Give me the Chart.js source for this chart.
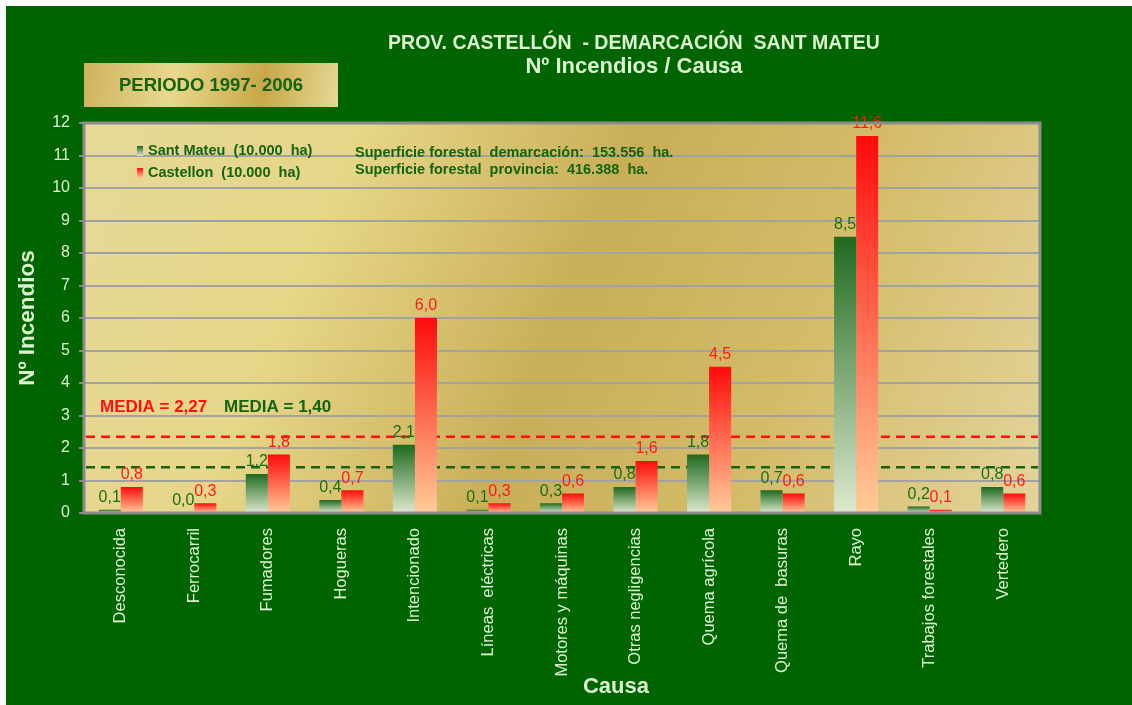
<!DOCTYPE html>
<html>
<head>
<meta charset="utf-8">
<title>Nº Incendios / Causa - Sant Mateu</title>
<script src="https://cdn.jsdelivr.net/npm/chart.js@4.4.1/dist/chart.umd.min.js"></script>
<style>
    html, body { margin: 0; padding: 0; background: #ffffff; }
    #wrap { position: relative; width: 1132px; height: 705px; }
</style>
</head>
<body>
<div id="wrap"><canvas id="fireChart" width="1132" height="705"></canvas></div>
<script>
// Causes of fire (x axis)
const categories = [
    'Desconocida', 'Ferrocarril', 'Fumadores', 'Hogueras', 'Intencionado',
    'Líneas  eléctricas', 'Motores y máquinas', 'Otras negligencias', 'Quema agrícola',
    'Quema de  basuras', 'Rayo', 'Trabajos forestales', 'Vertedero'
];

// Fires per 10.000 ha, period 1997-2006
const santMateu = [0.1, 0.0, 1.2, 0.4, 2.1, 0.1, 0.3, 0.8, 1.8, 0.7, 8.5, 0.2, 0.8];
const castellon = [0.8, 0.3, 1.8, 0.7, 6.0, 0.3, 0.6, 1.6, 4.5, 0.6, 11.6, 0.1, 0.6];

// Average lines (position as drawn in the original)
const meanSantMateu = 1.41;
const meanCastellon = 2.35;

const FONT = '"Liberation Sans", Arial, sans-serif';
const LIGHT = '#dcf2d0';
const DARK_GREEN = '#14640f';

/**
 * Vertical gradient for a single bar, from its top down to the base
 */
function barGradient(context, topColor, bottomColor) {
    const chart = context.chart;
    if (!chart.chartArea || context.type !== 'data') return topColor;
    const yScale = chart.scales.y;
    const top = yScale.getPixelForValue(context.raw);
    const base = yScale.getPixelForValue(0);
    if (base - top < 1) return topColor;
    const g = chart.ctx.createLinearGradient(0, top, 0, base);
    g.addColorStop(0, topColor);
    g.addColorStop(1, bottomColor);
    return g;
}

function formatValue(v) {
    return v.toFixed(1).replace('.', ',');
}

// Backgrounds, titles and the small boxes
const decorPlugin = {
    id: 'decor',
    beforeDraw(chart) {
        const ctx = chart.ctx;
        const area = chart.chartArea;
        ctx.save();
        ctx.fillStyle = '#ffffff';
        ctx.fillRect(0, 0, chart.width, chart.height);
        ctx.fillStyle = '#006400';
        ctx.fillRect(6, 6, chart.width - 6, chart.height - 6);

        // golden plot area
        const g = ctx.createLinearGradient(area.left, area.top, area.right, area.bottom);
        g.addColorStop(0, '#e6d898');
        g.addColorStop(0.25, '#e6d688');
        g.addColorStop(0.5, '#c9ae58');
        g.addColorStop(0.72, '#d3bb68');
        g.addColorStop(1, '#e4d49c');
        ctx.fillStyle = g;
        ctx.fillRect(area.left, area.top, area.right - area.left, area.bottom - area.top);

        // PERIODO box
        const pg = ctx.createLinearGradient(84, 63, 338, 107);
        pg.addColorStop(0, '#cdb25e');
        pg.addColorStop(0.35, '#e8d88e');
        pg.addColorStop(0.7, '#c8a848');
        pg.addColorStop(1, '#e6d896');
        ctx.fillStyle = pg;
        ctx.fillRect(84, 63, 254, 44);
        ctx.fillStyle = DARK_GREEN;
        ctx.font = 'bold 18.5px ' + FONT;
        ctx.textAlign = 'center';
        ctx.textBaseline = 'middle';
        ctx.fillText('PERIODO 1997- 2006', 211, 86);

        // titles
        ctx.fillStyle = LIGHT;
        ctx.font = 'bold 19.5px ' + FONT;
        ctx.fillText('PROV. CASTELLÓN  - DEMARCACIÓN  SANT MATEU', 634, 44);
        ctx.font = 'bold 22px ' + FONT;
        ctx.fillText('Nº Incendios / Causa', 634, 67);

        // axis titles
        ctx.font = 'bold 22px ' + FONT;
        ctx.fillText('Causa', 616, 687);
        ctx.save();
        ctx.translate(28, 318);
        ctx.rotate(-Math.PI / 2);
        ctx.font = 'bold 22.5px ' + FONT;
        ctx.fillText('Nº Incendios', 0, 0);
        ctx.restore();
        ctx.restore();
    },
    beforeDatasetsDraw(chart) {
        const ctx = chart.ctx;
        const area = chart.chartArea;
        const y = chart.scales.y;
        ctx.save();
        ctx.lineWidth = 2.5;
        ctx.setLineDash([9, 6]);
        [[meanCastellon, '#ff1010'], [meanSantMateu, '#14640f']].forEach(([v, c]) => {
            const py = y.getPixelForValue(v);
            ctx.strokeStyle = c;
            ctx.beginPath();
            ctx.moveTo(area.left + 2, py);
            ctx.lineTo(area.right - 2, py);
            ctx.stroke();
        });
        ctx.restore();
    },
    afterDatasetsDraw(chart) {
        const ctx = chart.ctx;
        const area = chart.chartArea;
        ctx.save();
        // value labels
        ctx.font = '16px ' + FONT;
        ctx.textAlign = 'center';
        ctx.textBaseline = 'bottom';
        const colors = ['#1a6e16', '#ff1a1a'];
        chart.data.datasets.forEach((ds, i) => {
            chart.getDatasetMeta(i).data.forEach((bar, j) => {
                ctx.fillStyle = colors[i];
                ctx.fillText(formatValue(ds.data[j]), bar.x, bar.y - 4);
            });
        });

        // frame
        ctx.strokeStyle = '#8c8c8c';
        ctx.lineWidth = 3;
        ctx.strokeRect(area.left, area.top, area.right - area.left, area.bottom - area.top);

        // legend
        const lg1 = ctx.createLinearGradient(0, 146, 0, 156);
        lg1.addColorStop(0, '#1e6a1e');
        lg1.addColorStop(1, '#dfe9cf');
        ctx.fillStyle = lg1;
        ctx.fillRect(137, 146, 6, 10);
        const lg2 = ctx.createLinearGradient(0, 168, 0, 178);
        lg2.addColorStop(0, '#ff0a0a');
        lg2.addColorStop(1, '#ffcc99');
        ctx.fillStyle = lg2;
        ctx.fillRect(137, 168, 6, 10);

        ctx.fillStyle = DARK_GREEN;
        ctx.font = 'bold 14.5px ' + FONT;
        ctx.textAlign = 'left';
        ctx.textBaseline = 'middle';
        ctx.fillText('Sant Mateu  (10.000  ha)', 148, 151);
        ctx.fillText('Castellon  (10.000  ha)', 148, 173);
        ctx.fillText('Superficie forestal  demarcación:  153.556  ha.', 355, 153);
        ctx.fillText('Superficie forestal  provincia:  416.388  ha.', 355, 170);

        // averages
        ctx.font = 'bold 17px ' + FONT;
        ctx.fillStyle = '#ff1010';
        ctx.fillText('MEDIA = 2,27', 100, 407);
        ctx.fillStyle = DARK_GREEN;
        ctx.fillText('MEDIA = 1,40', 224, 407);
        ctx.restore();
    }
};

const ctx = document.getElementById('fireChart').getContext('2d');
const fireChart = new Chart(ctx, {
    type: 'bar',
    data: {
        labels: categories,
        datasets: [{
            label: 'Sant Mateu (10.000 ha)',
            data: santMateu,
            backgroundColor: c => barGradient(c, '#1e6a1e', '#dfe9cf'),
            borderWidth: 0,
            categoryPercentage: 0.6,
            barPercentage: 1.0
        }, {
            label: 'Castellon (10.000 ha)',
            data: castellon,
            backgroundColor: c => barGradient(c, '#ff0a0a', '#ffcc99'),
            borderWidth: 0,
            categoryPercentage: 0.6,
            barPercentage: 1.0
        }]
    },
    options: {
        responsive: false,
        animation: false,
        events: [],
        layout: { padding: { left: 0, top: 123, right: 92, bottom: 0 } },
        plugins: {
            legend: { display: false },
            tooltip: { enabled: false },
            title: { display: false }
        },
        scales: {
            x: {
                afterFit: s => { s.height = 192; },
                grid: { display: false },
                border: { display: false },
                ticks: {
                    color: LIGHT,
                    font: { family: FONT, size: 16.5 },
                    minRotation: 90,
                    maxRotation: 90,
                    autoSkip: false,
                    padding: 7
                }
            },
            y: {
                min: 0,
                max: 12,
                afterFit: s => { s.width = 84; },
                border: { display: false },
                grid: {
                    color: '#a2a2a2',
                    lineWidth: 2,
                    tickLength: 5,
                    tickColor: '#8c8c8c'
                },
                ticks: {
                    stepSize: 1,
                    color: LIGHT,
                    font: { family: FONT, size: 16 },
                    padding: 9
                }
            }
        }
    },
    plugins: [decorPlugin]
});
</script>
</body>
</html>
